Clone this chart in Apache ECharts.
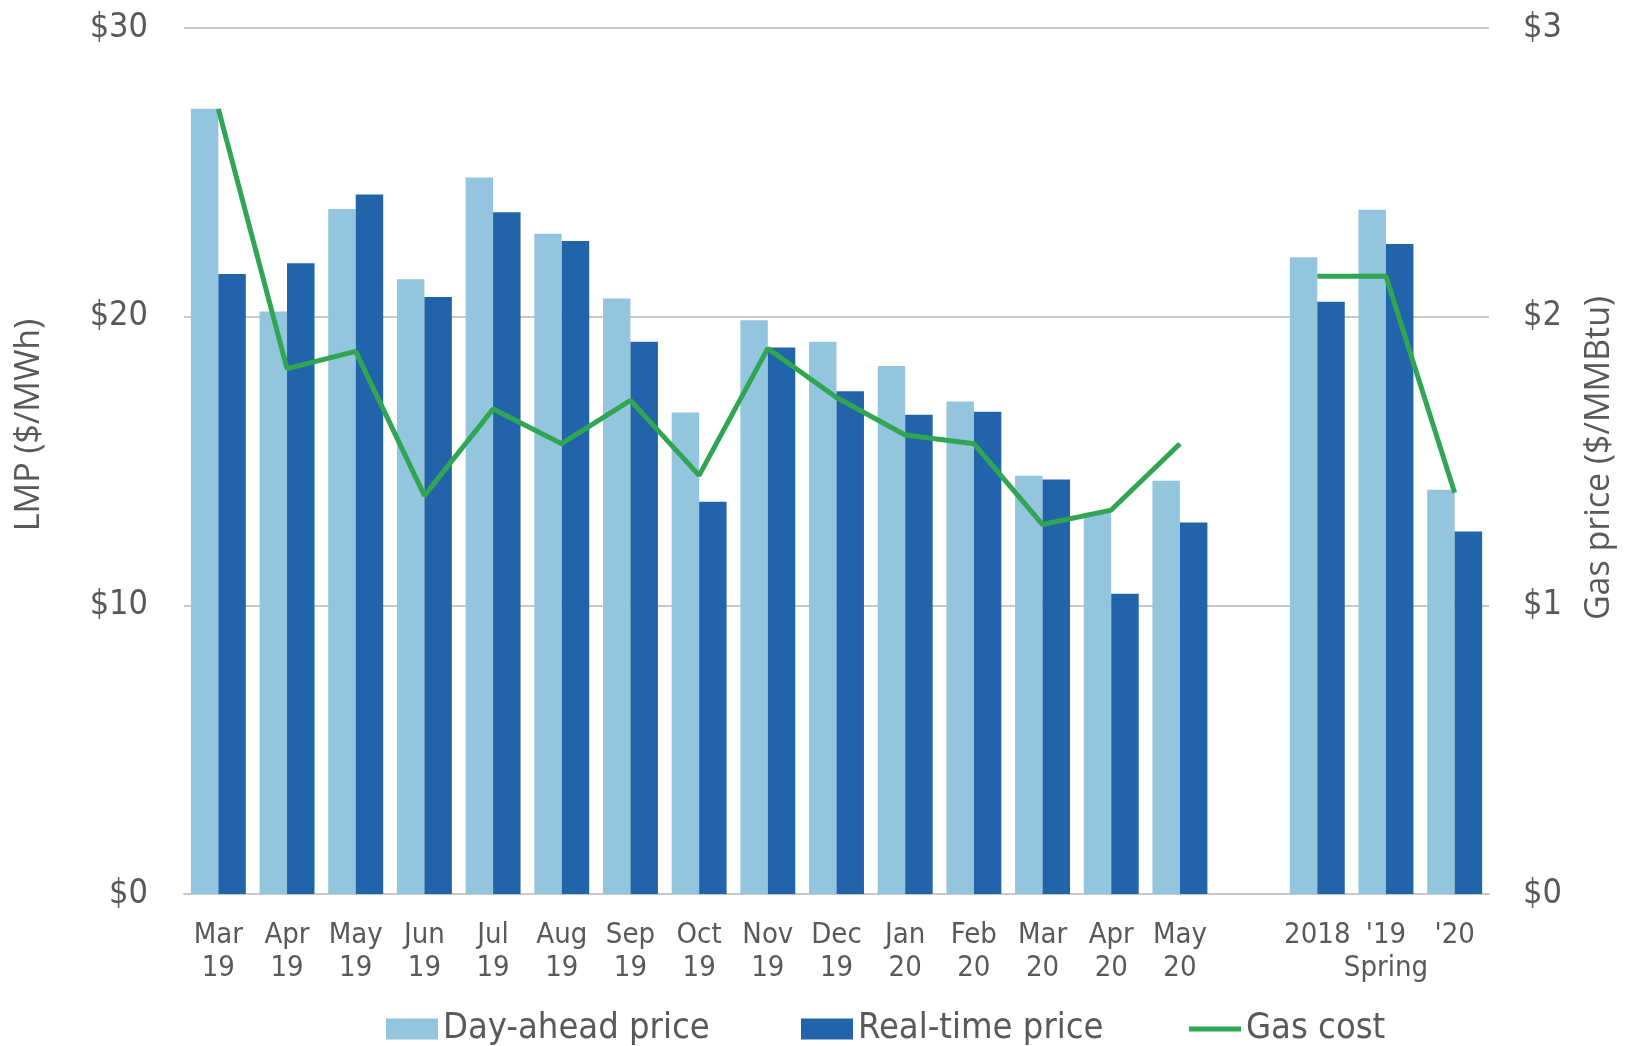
<!DOCTYPE html>
<html>
<head>
<meta charset="utf-8">
<script src="https://cdn.jsdelivr.net/npm/echarts@6/dist/echarts.min.js"></script>
<style>
  html, body { margin: 0; padding: 0; background: #ffffff; }
  #chart { width: 1625px; height: 1046px; }
</style>
</head>
<body>
<div id="chart"></div>
<script>
// categories: 15 months, an empty slot, then the three spring averages
const categories = ['Mar\n19', 'Apr\n19', 'May\n19', 'Jun\n19', 'Jul\n19', 'Aug\n19', 'Sep\n19', 'Oct\n19',
    'Nov\n19', 'Dec\n19', 'Jan\n20', 'Feb\n20', 'Mar\n20', 'Apr\n20', 'May\n20', '', '2018', "'19\nSpring", "'20"];

// LMP, $/MWh
const dayAhead = [27.2, 20.18, 23.73, 21.3, 24.82, 22.87, 20.63, 16.68, 19.88, 19.13, 18.29, 17.06, 14.49, 13.21, 14.32, null, 22.06, 23.7, 14.0];
const realTime = [21.48, 21.85, 24.23, 20.68, 23.62, 22.62, 19.13, 13.59, 18.93, 17.42, 16.6, 16.71, 14.36, 10.4, 12.87, null, 20.52, 22.52, 12.56];

// gas price, $/MMBtu
const gasCost = [2.72, 1.82, 1.88, 1.38, 1.68, 1.56, 1.71, 1.45, 1.89, 1.72, 1.59, 1.56, 1.28, 1.33, 1.56, null, 2.14, 2.14, 1.39];

const lmpTicks = ['$0', '$10', '$20', '$30'];
const gasTicks = ['$0', '$1', '$2', '$3'];

const textColor = '#595959';
const narrow = "'Liberation Sans Narrow', 'DejaVu Sans Condensed', 'Roboto', sans-serif";
const regular = "'Open Sans', 'Lato', sans-serif";

const chart = echarts.init(document.getElementById('chart'));

// one legend per item so each sits where the reference puts it
const legendBase = {
    top: 1006,
    itemWidth: 52,
    itemHeight: 21,
    icon: 'rect',
    textStyle: { fontFamily: narrow, fontSize: 36, color: textColor }
};

const option = {
    animation: false,
    grid: {
        left: 184,
        right: 136,
        top: 28,
        bottom: 152
    },
    legend: [
        { ...legendBase, left: 381, data: ['Day-ahead price'] },
        { ...legendBase, left: 796, data: ['Real-time price'] },
        { ...legendBase, left: 1184, itemHeight: 5, data: ['Gas cost'] }
    ],
    xAxis: {
        type: 'category',
        data: categories,
        axisTick: { show: false },
        axisLine: { show: true, lineStyle: { color: '#c8c8c8', width: 2 } },
        axisLabel: {
            interval: 0,
            margin: 25,
            fontFamily: narrow,
            fontSize: 29,
            lineHeight: 33,
            color: textColor
        }
    },
    yAxis: [
        {
            type: 'value',
            min: 0,
            max: 30,
            interval: 10,
            axisLine: { show: false },
            axisTick: { show: false },
            splitLine: { lineStyle: { color: '#c8c8c8', width: 2 } },
            axisLabel: {
                margin: 36,
                fontFamily: narrow,
                fontSize: 34,
                color: textColor,
                formatter: (v) => lmpTicks[v / 10]
            }
        },
        {
            type: 'value',
            min: 0,
            max: 3,
            interval: 1,
            axisLine: { show: false },
            axisTick: { show: false },
            splitLine: { show: false },
            axisLabel: {
                margin: 34,
                fontFamily: narrow,
                fontSize: 34,
                color: textColor,
                formatter: (v) => gasTicks[v]
            }
        }
    ],
    graphic: [
        {
            type: 'text',
            x: 29,
            y: 425,
            rotation: Math.PI / 2,
            style: {
                text: 'LMP ($/MWh)',
                fontFamily: regular,
                fontSize: 34,
                fill: textColor,
                align: 'center',
                verticalAlign: 'middle'
            }
        },
        {
            type: 'text',
            x: 1599,
            y: 458,
            rotation: Math.PI / 2,
            style: {
                text: 'Gas price ($/MMBtu)',
                fontFamily: regular,
                fontSize: 34,
                fill: textColor,
                align: 'center',
                verticalAlign: 'middle'
            }
        }
    ],
    series: [
        {
            name: 'Day-ahead price',
            type: 'bar',
            data: dayAhead,
            barGap: '0%',
            barCategoryGap: '20%',
            itemStyle: { color: '#94c5de' }
        },
        {
            name: 'Real-time price',
            type: 'bar',
            data: realTime,
            itemStyle: { color: '#2264aa' }
        },
        {
            name: 'Gas cost',
            type: 'line',
            yAxisIndex: 1,
            data: gasCost,
            symbol: 'none',
            connectNulls: false,
            lineStyle: { color: '#30a552', width: 5 },
            itemStyle: { color: '#30a552' },
            z: 5
        }
    ]
};

chart.setOption(option);
</script>
</body>
</html>
